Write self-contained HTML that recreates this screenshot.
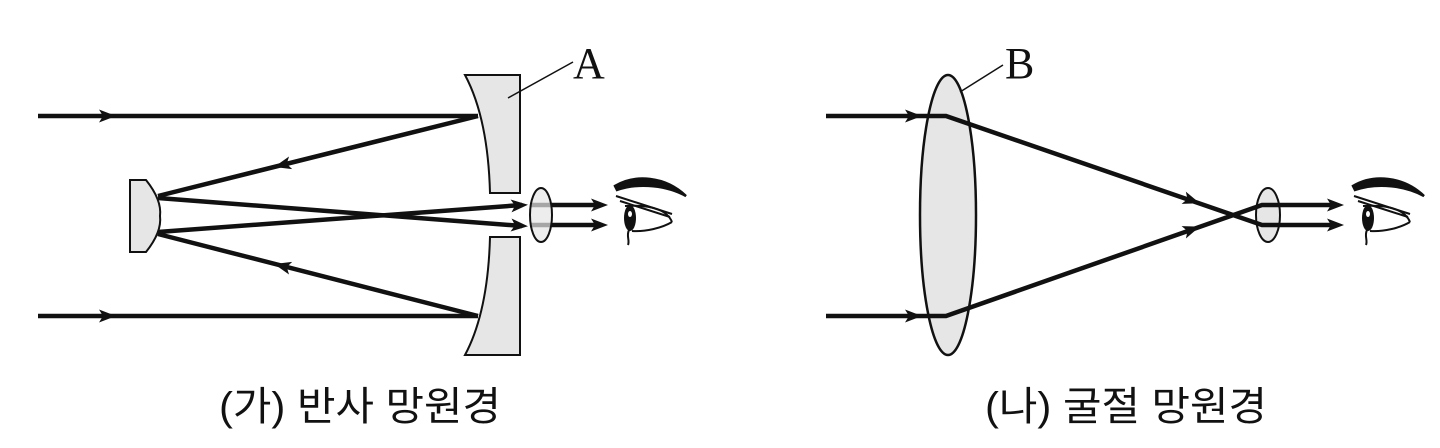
<!DOCTYPE html>
<html><head><meta charset="utf-8"><style>
html,body{margin:0;padding:0;background:#fff;}
svg{display:block;}
</style></head><body>
<svg width="1440" height="448" viewBox="0 0 1440 448" xmlns="http://www.w3.org/2000/svg">
<defs>
<g id="eye">
<path d="M615,186 C635,174 665,176 686,196 C668,186 640,182 617,190 Z" fill="#111" stroke="#111" stroke-width="2.5"/>
<path d="M616,196 L672,214 M620,201 L670,217" stroke="#111" stroke-width="2" fill="none"/>
<path d="M625,206 C655,204 668,212 672,222" stroke="#111" stroke-width="2" fill="none"/>
<ellipse cx="630" cy="218" rx="6" ry="13" fill="#111"/>
<ellipse cx="630" cy="214" rx="2" ry="3" fill="#fff"/>
<path d="M632,231 C645,232 662,228 672,222" stroke="#111" stroke-width="2" fill="none"/>
<path d="M629,230 C626,236 630,240 628,245" stroke="#111" stroke-width="2" fill="none"/>
</g>
<g id="ah"><path d="M-13,-6.5 L4,0 L-13,6.5 L-9,0 Z" fill="#111"/></g>
</defs>
<g stroke="#111" stroke-width="4.5" fill="none">
<line x1="38" y1="116" x2="478" y2="116"/>
<line x1="38" y1="316" x2="478" y2="316"/>
<line x1="478" y1="116" x2="158" y2="196"/>
<line x1="478" y1="316" x2="158" y2="234"/>
<line x1="158" y1="198" x2="522" y2="226"/>
<line x1="158" y1="232" x2="522" y2="205"/>
<line x1="530" y1="205" x2="598" y2="205"/>
<line x1="530" y1="225" x2="598" y2="225"/>
</g>
<g fill="#111">
<use href="#ah" transform="translate(112,116)"/>
<use href="#ah" transform="translate(112,316)"/>
<use href="#ah" transform="translate(278,166) rotate(166)"/>
<use href="#ah" transform="translate(278,265) rotate(194)"/>
<use href="#ah" transform="translate(524,226) rotate(4.4)"/>
<use href="#ah" transform="translate(524,205) rotate(-4.2)"/>
<use href="#ah" transform="translate(604,205)"/>
<use href="#ah" transform="translate(604,225)"/>
</g>
<g fill="#e6e6e6" stroke="#111" stroke-width="2">
<path d="M465,75 L520,75 L520,193 L490,193 Q488,118 465,75 Z"/>
<path d="M490,237 L520,237 L520,355 L465,355 Q488,312 490,237 Z"/>
<path d="M130,180 L146,180 Q162,200 160,216 Q162,232 146,252 L130,252 Z"/>
<ellipse cx="541" cy="215" rx="11" ry="27" fill-opacity="0.7"/>
</g>
<line x1="508" y1="98" x2="573" y2="62" stroke="#111" stroke-width="1.5"/>
<text x="573" y="78" font-family="Liberation Serif, serif" font-size="44" fill="#111">A</text>
<use href="#eye"/>

<ellipse cx="948" cy="215" rx="28" ry="140" fill="#e6e6e6" stroke="#111" stroke-width="2.5"/>
<ellipse cx="1268" cy="215" rx="12" ry="27" fill="#e6e6e6" stroke="#111" stroke-width="2"/>
<g stroke="#111" stroke-width="4.5" fill="none">
<polyline points="826,116 946,116 1262,225 1334,225"/>
<polyline points="826,316 946,316 1262,205 1334,205"/>
</g>
<g fill="#111">
<use href="#ah" transform="translate(918,116)"/>
<use href="#ah" transform="translate(918,316)"/>
<use href="#ah" transform="translate(1196,202) rotate(19)"/>
<use href="#ah" transform="translate(1196,228) rotate(-19.4)"/>
<use href="#ah" transform="translate(1340,205)"/>
<use href="#ah" transform="translate(1340,225)"/>
</g>
<line x1="960" y1="92" x2="1003" y2="65" stroke="#111" stroke-width="1.5"/>
<text x="1005" y="78" font-family="Liberation Serif, serif" font-size="44" fill="#111">B</text>
<use href="#eye" transform="translate(738,0)"/>

<text x="360" y="420" text-anchor="middle" font-family="Liberation Sans, 'Noto Sans CJK KR', sans-serif" font-size="40" fill="#111" textLength="282" lengthAdjust="spacingAndGlyphs">(가) 반사 망원경</text>
<text x="1126" y="420" text-anchor="middle" font-family="Liberation Sans, 'Noto Sans CJK KR', sans-serif" font-size="40" fill="#111" textLength="282" lengthAdjust="spacingAndGlyphs">(나) 굴절 망원경</text>
</svg>
</body></html>
